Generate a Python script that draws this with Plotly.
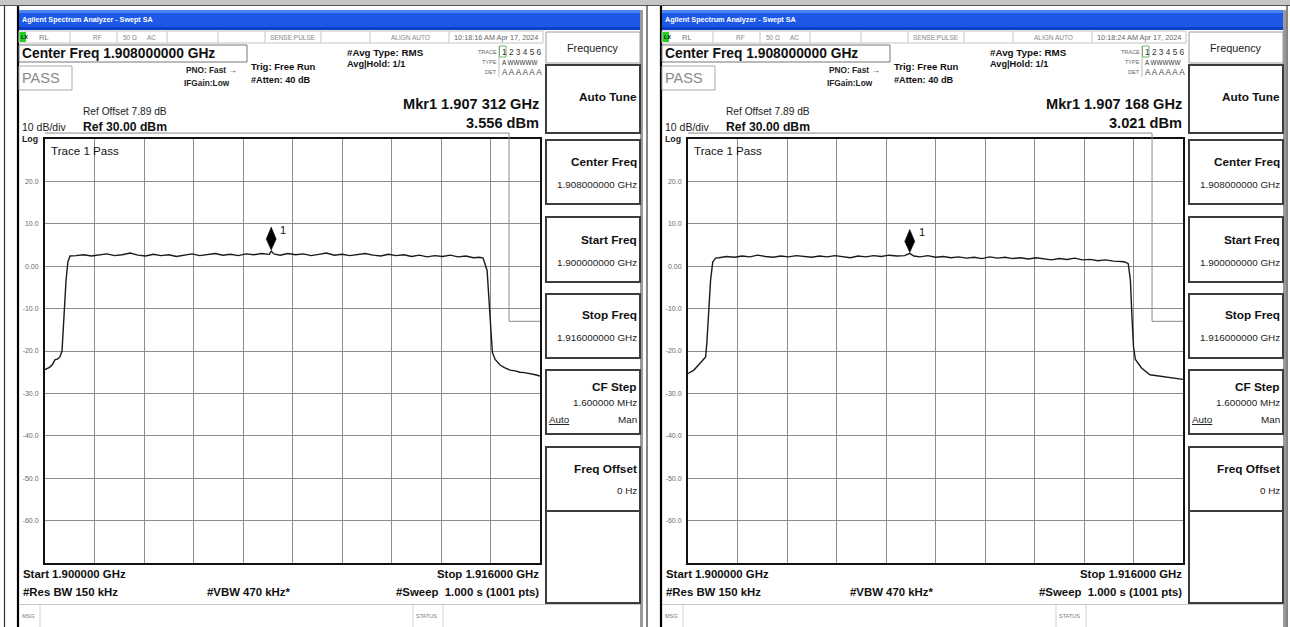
import plotly.graph_objects as go

W, H = 1290, 627
FONT = "Liberation Sans, Arial, sans-serif"

# ---------------- data ----------------
START_GHZ = 1.900
STOP_GHZ = 1.916
CENTER_GHZ = 1.908
CF_STEP_MHZ = 1.6
REF_DBM = 30.0
REF_OFFSET_DB = 7.89
DB_PER_DIV = 10
N_DIV = 10
Y_TICKS = [20, 10, 0, -10, -20, -30, -40, -50, -60]
Y_TICK_TEXT = ["20.0", "10.0", "0.00", "-10.0", "-20.0", "-30.0", "-40.0", "-50.0", "-60.0"]

LIMIT_FREQ_MHZ = [0.0, 15.0, 15.0, 16.0]
LIMIT_DBM = [31.4, 31.4, -13.0, -13.0]

P1_FREQ_MHZ = [0.00, 0.10, 0.16, 0.24, 0.32, 0.40, 0.48, 0.55, 0.61, 0.68, 0.74, 0.81,
               1.00, 1.25, 1.50, 1.75, 2.00, 2.25, 2.50, 2.75, 3.00, 3.25, 3.50, 3.75, 4.00,
               4.25, 4.50, 4.75, 5.00, 5.25, 5.50, 5.75, 6.00, 6.25, 6.50, 6.75, 7.00, 7.25,
               7.312, 7.40, 7.60,
               7.85, 8.10, 8.35, 8.60, 8.85, 9.10, 9.35, 9.60, 9.85, 10.10, 10.35, 10.60, 10.85,
               11.10, 11.35, 11.60, 11.85, 12.10, 12.35, 12.60, 12.85, 13.10, 13.35, 13.60, 13.85,
               14.05, 14.16,
               14.29, 14.35, 14.42, 14.46, 14.55, 14.71, 14.85, 15.03, 15.20, 15.35, 15.50, 15.68,
               15.85, 16.00]
P1_DBM = [-24.4, -24.0, -23.8, -23.2, -22.1, -21.9, -21.4, -20.0, -12.0, -3.3, 1.0, 2.4,
          2.5, 2.7, 2.4, 2.6, 2.9, 2.5, 2.7, 3.1, 2.6, 2.4, 2.8, 2.5, 2.7,
          2.3, 2.6, 2.9, 2.5, 2.7, 3.0, 2.6, 2.8, 2.5, 2.9, 2.7, 3.0, 2.8,
          3.556, 2.9, 2.6,
          3.0, 2.7, 2.9, 2.5, 2.8, 3.1, 2.6, 2.8, 2.5, 2.7, 3.0, 2.6, 2.4,
          2.8, 2.5, 2.7, 2.3, 2.6, 2.2, 2.5, 2.3, 2.6, 2.2, 2.4, 2.0,
          2.1, 1.9,
          -1.0, -7.3, -15.0, -20.3, -22.0, -23.3, -23.9, -24.5, -24.7, -25.0, -25.1, -25.3,
          -25.6, -25.9]

P2_FREQ_MHZ = [0.00, 0.19, 0.39, 0.57, 0.61, 0.66, 0.73, 0.80, 0.89,
               1.00, 1.25, 1.50, 1.75, 2.00, 2.25, 2.50, 2.75, 3.00, 3.25, 3.50, 3.75, 4.00,
               4.25, 4.50, 4.75, 5.00, 5.25, 5.50, 5.75, 6.00, 6.25, 6.50, 6.75, 7.00,
               7.168, 7.30, 7.50,
               7.75, 8.00, 8.25, 8.50, 8.75, 9.00, 9.25, 9.50, 9.75, 10.00, 10.25, 10.50, 10.75,
               11.00, 11.25, 11.50, 11.75, 12.00, 12.25, 12.50, 12.75, 13.00, 13.25, 13.50, 13.75,
               14.00,
               14.12, 14.23, 14.30, 14.35, 14.40, 14.46, 14.66, 14.93, 15.33, 15.87, 16.00]
P2_DBM = [-25.3, -24.5, -22.9, -21.4, -18.0, -11.9, -3.3, 1.0, 1.9,
          2.0, 2.3, 2.1, 2.4, 2.2, 2.6, 2.3, 2.1, 2.4, 2.2, 2.5, 2.3, 2.1,
          2.4, 2.2, 2.5, 2.3, 2.0, 2.4, 2.2, 2.5, 2.3, 2.6, 2.4, 2.5,
          3.021, 2.4, 2.2,
          2.5, 2.1, 2.3, 2.0, 2.2, 1.9, 2.1, 1.8, 2.2, 1.9, 2.1, 1.8, 2.0,
          1.7, 2.0, 1.8, 1.5, 1.8, 1.6, 1.9, 1.5, 1.6, 1.3, 1.5, 1.2,
          1.1,
          1.0, 0.6, -3.3, -11.9, -19.0, -22.0, -24.0, -25.6, -26.0, -26.4, -26.7]

MKR_FREQ_GHZ = [1.907312, 1.907168]
MKR_DBM = [3.556, 3.021]
TIMESTAMPS = ["10:18:16 AM Apr 17, 2024", "10:18:24 AM Apr 17, 2024"]
TRACES_MHZ = [P1_FREQ_MHZ, P2_FREQ_MHZ]
TRACES_DBM = [P1_DBM, P2_DBM]
assert len(P1_FREQ_MHZ) == len(P1_DBM) and len(P2_FREQ_MHZ) == len(P2_DBM)

# ---------------- helpers ----------------
def px(x):
    return x / W

def py(y):
    return 1 - y / H

shapes = []
annos = []

def rect(x0, y0, x1, y1, fill=None, color=None, lw=1, layer="below"):
    shapes.append(dict(type="rect", xref="paper", yref="paper",
                       x0=px(x0), x1=px(x1), y0=py(y0), y1=py(y1),
                       fillcolor=fill if fill else "rgba(0,0,0,0)",
                       line=dict(color=color if color else "rgba(0,0,0,0)", width=lw if color else 0),
                       layer=layer))

def line(x0, y0, x1, y1, color="#000", lw=1, layer="below"):
    shapes.append(dict(type="line", xref="paper", yref="paper",
                       x0=px(x0), x1=px(x1), y0=py(y0), y1=py(y1),
                       line=dict(color=color, width=lw), layer=layer))

def text(x, y, s, size=12, color="#111", bold=False, anchor="left", family=FONT):
    if bold:
        s = "<b>" + s + "</b>"
    annos.append(dict(xref="paper", yref="paper", x=px(x), y=py(y), text=s,
                      showarrow=False, xanchor=anchor, yanchor="middle",
                      font=dict(family=family, size=size, color=color), borderpad=0))

def fmt_mkr(f):
    s = f"{f:.6f}"
    return s[:5] + " " + s[5:]

# ---------------- outer frame ----------------
rect(0, 0, W, 5, fill="#c6c6c6")
line(0, 5.5, W, 5.5, color="#555", lw=1)
for xv in (4.5, 647, 1287):
    line(xv, 5, xv, H, color="#333", lw=1.2)

fig = go.Figure()
layout_axes = {}

OFFSETS = [0, 643]
PLOT_X0, PLOT_X1, PLOT_Y0, PLOT_Y1 = 45, 540, 139, 563
BOTTOM_DBM = REF_DBM - N_DIV * DB_PER_DIV

for i, ox in enumerate(OFFSETS):
    # screenshot frame
    line(18 + ox, 6, 18 + ox, H, color="#000", lw=2.2)
    line(641.5 + ox, 10, 641.5 + ox, H, color="#9a9a9a", lw=3)
    # title bar
    rect(19 + ox, 10, 640 + ox, 30, fill="#1d58e6")
    rect(19 + ox, 10, 640 + ox, 13, fill="#4a83f4")
    rect(19 + ox, 27, 640 + ox, 30, fill="#0c3fcc")
    text(21 + ox, 19.5, "Agilent Spectrum Analyzer - Swept SA", size=7.2, color="#ffffff", bold=True)
    # status row
    rect(19 + ox, 31, 543 + ox, 43, fill="#ffffff", color="#c4c4c4", lw=1)
    for xv in (70, 117, 167, 218, 265, 321, 370, 449):
        line(xv + ox, 31, xv + ox, 43, color="#c4c4c4", lw=1)
    rect(19.5 + ox, 32, 26 + ox, 42, fill="#25d025")
    text(19.5 + ox, 37, "LX", size=5.5, color="#111", bold=True)
    text(38 + ox, 37, "RL", size=7.5, color="#777")
    text(92 + ox, 37, "RF", size=6.5, color="#888")
    text(122 + ox, 37, "50 Ω", size=6.5, color="#888")
    text(146 + ox, 37, "AC", size=6.5, color="#888")
    text(293 + ox, 37, "SENSE:PULSE", size=6.5, color="#888", anchor="center")
    text(410 + ox, 37, "ALIGN AUTO", size=6.5, color="#888", anchor="center")
    text(496 + ox, 37, TIMESTAMPS[i], size=7.3, color="#666", anchor="center")

    # header readouts
    rect(19 + ox, 45, 247 + ox, 62, fill="#ffffff", color="#777", lw=1)
    text(21 + ox, 53.5, f"Center Freq {CENTER_GHZ:.9f} GHz", size=13.8, color="#111", bold=True)
    rect(19 + ox, 66, 72 + ox, 90, fill="#ffffff", color="#aaa", lw=1)
    text(21 + ox, 78, "PASS", size=14.5, color="#8a8a8a")
    text(185 + ox, 70, "PNO: Fast →", size=8.3, color="#222", bold=True)
    text(183 + ox, 83, "IFGain:Low", size=8.3, color="#222", bold=True)
    text(250 + ox, 66, "Trig: Free Run", size=9.5, color="#111", bold=True)
    text(250 + ox, 80, "#Atten: 40 dB", size=9.2, color="#111", bold=True)
    text(346 + ox, 52, "#Avg Type: RMS", size=9.8, color="#111", bold=True)
    text(346 + ox, 64, "Avg|Hold: 1/1", size=9.2, color="#111", bold=True)
    # trace table
    line(499 + ox, 46, 499 + ox, 77, color="#bbb", lw=1)
    rect(499.5 + ox, 46, 506 + ox, 57, color="#6ab36a", lw=1)
    text(498 + ox, 51.5, "TRACE", size=5.5, color="#666", anchor="right")
    text(501 + ox, 51.5, "1 2 3 4 5 6", size=8.3, color="#333")
    text(498 + ox, 62, "TYPE", size=5.5, color="#666", anchor="right")
    text(501 + ox, 62, "A WWWWW", size=6.3, color="#333")
    text(498 + ox, 72.5, "DET", size=5.5, color="#666", anchor="right")
    text(501 + ox, 72.5, "A A A A A A", size=8.2, color="#444")

    text(540 + ox, 104, "Mkr1 " + fmt_mkr(MKR_FREQ_GHZ[i]) + " GHz", size=14.6, color="#111",
         bold=True, anchor="right")
    text(540 + ox, 123, f"{MKR_DBM[i]:.3f} dBm", size=14.6, color="#111", bold=True, anchor="right")
    text(82 + ox, 112, f"Ref Offset {REF_OFFSET_DB:.2f} dB", size=10.2, color="#222")
    text(21 + ox, 127, f"{DB_PER_DIV} dB/div", size=10.5, color="#222")
    text(82 + ox, 127, f"Ref {REF_DBM:.2f} dBm", size=12.2, color="#111", bold=True)
    text(21 + ox, 138.5, "Log", size=8.8, color="#222", bold=True)

    # soft keys
    rect(546 + ox, 32, 640 + ox, 63, fill="#ffffff", color="#9a9a9a", lw=1)
    text(593 + ox, 47.5, "Frequency", size=10.8, color="#222", anchor="center")
    boxes = [(65, 133), (140, 204), (217, 282), (294, 358), (370, 434), (447, 511), (511, 603)]
    for (t, b) in boxes:
        rect(546 + ox, t, 640 + ox, b, fill="#ffffff", color="#3c3c3c", lw=2)
    KEY = 11.8
    VAL = 9.9
    text(638 + ox, 97, "Auto Tune", size=KEY, color="#111", bold=True, anchor="right")
    text(638 + ox, 162, "Center Freq", size=KEY, color="#111", bold=True, anchor="right")
    text(638 + ox, 185, f"{CENTER_GHZ:.9f} GHz", size=VAL, color="#222", anchor="right")
    text(638 + ox, 240, "Start Freq", size=KEY, color="#111", bold=True, anchor="right")
    text(638 + ox, 262, f"{START_GHZ:.9f} GHz", size=VAL, color="#222", anchor="right")
    text(638 + ox, 315, "Stop Freq", size=KEY, color="#111", bold=True, anchor="right")
    text(638 + ox, 337, f"{STOP_GHZ:.9f} GHz", size=VAL, color="#222", anchor="right")
    text(638 + ox, 387, "CF Step", size=KEY, color="#111", bold=True, anchor="right")
    text(638 + ox, 403, f"{CF_STEP_MHZ:.6f} MHz", size=VAL, color="#222", anchor="right")
    text(548 + ox, 419, "<u>Auto</u>", size=VAL, color="#222")
    text(638 + ox, 419, "Man", size=VAL, color="#222", anchor="right")
    text(638 + ox, 469, "Freq Offset", size=KEY, color="#111", bold=True, anchor="right")
    text(638 + ox, 490, "0 Hz", size=VAL, color="#222", anchor="right")

    # footer
    FT = 11.4
    text(22 + ox, 574, f"Start {START_GHZ:.6f} GHz", size=FT, color="#111", bold=True)
    text(540 + ox, 574, f"Stop {STOP_GHZ:.6f} GHz", size=FT, color="#111", bold=True, anchor="right")
    text(22 + ox, 592, "#Res BW 150 kHz", size=FT, color="#111", bold=True)
    text(206 + ox, 592, "#VBW 470 kHz*", size=FT, color="#111", bold=True)
    text(540 + ox, 592, "#Sweep  1.000 s (1001 pts)", size=FT, color="#111", bold=True, anchor="right")
    line(19 + ox, 604.5, 640 + ox, 604.5, color="#c8c8c8", lw=1)
    line(40 + ox, 605, 40 + ox, H, color="#d0d0d0", lw=1)
    line(413 + ox, 605, 413 + ox, H, color="#d0d0d0", lw=1)
    line(443 + ox, 605, 443 + ox, H, color="#d0d0d0", lw=1)
    text(21 + ox, 616, "MSG", size=5.5, color="#777")
    text(415 + ox, 616, "STATUS", size=5.5, color="#777")

    # axes
    n = i + 1
    xa = "xaxis" if n == 1 else f"xaxis{n}"
    ya = "yaxis" if n == 1 else f"yaxis{n}"
    xr = "x" if n == 1 else f"x{n}"
    yr = "y" if n == 1 else f"y{n}"
    xdom = [px(PLOT_X0 + ox), px(PLOT_X1 + ox)]
    layout_axes[xa] = dict(domain=xdom, range=[START_GHZ, STOP_GHZ], anchor=yr,
                           tick0=START_GHZ, dtick=(STOP_GHZ - START_GHZ) / N_DIV,
                           showgrid=True, gridcolor="#8c8c8c", gridwidth=1,
                           showline=True, linecolor="#111", linewidth=2, mirror=True,
                           showticklabels=False, ticks="", zeroline=False)
    layout_axes[ya] = dict(domain=[py(PLOT_Y1), py(PLOT_Y0)], range=[BOTTOM_DBM, REF_DBM], anchor=xr,
                           tickvals=Y_TICKS, ticktext=Y_TICK_TEXT,
                           tickfont=dict(family=FONT, size=7, color="#6a6a6a"),
                           ticklabelstandoff=3,
                           showgrid=True, gridcolor="#8c8c8c", gridwidth=1,
                           showline=True, linecolor="#111", linewidth=2, mirror=True,
                           ticks="", zeroline=False)
    # overlay axes for the limit line (extends slightly above the graticule)
    m = n + 2
    top_px = 130
    dbpp = (REF_DBM - BOTTOM_DBM) / (PLOT_Y1 - PLOT_Y0)
    layout_axes[f"xaxis{m}"] = dict(domain=xdom, range=[START_GHZ, STOP_GHZ], anchor=f"y{m}", visible=False)
    layout_axes[f"yaxis{m}"] = dict(domain=[py(PLOT_Y1), py(top_px)],
                                    range=[BOTTOM_DBM, REF_DBM + (PLOT_Y0 - top_px) * dbpp],
                                    anchor=f"x{m}", visible=False)

    fig.add_trace(go.Scatter(x=[START_GHZ + f / 1000 for f in LIMIT_FREQ_MHZ], y=LIMIT_DBM,
                             xaxis=f"x{m}", yaxis=f"y{m}", mode="lines",
                             line=dict(color="#8a8a8a", width=1), hoverinfo="skip", showlegend=False))
    fig.add_trace(go.Scatter(x=[START_GHZ + f / 1000 for f in TRACES_MHZ[i]], y=TRACES_DBM[i],
                             xaxis=xr, yaxis=yr, mode="lines",
                             line=dict(color="#1a1a1a", width=1.4), hoverinfo="skip", showlegend=False))
    # marker diamond
    shapes.append(dict(type="path", xref=xr, yref=yr, xsizemode="pixel", ysizemode="pixel",
                       xanchor=MKR_FREQ_GHZ[i], yanchor=MKR_DBM[i],
                       path="M0,1 L5,12 L0,24 L-5,12 Z", fillcolor="#000",
                       line=dict(color="#000", width=0.5), layer="above"))
    annos.append(dict(xref=xr, yref=yr, x=MKR_FREQ_GHZ[i], y=MKR_DBM[i], text="1",
                      showarrow=False, xanchor="left", yanchor="middle", xshift=7, yshift=21,
                      font=dict(family=FONT, size=11, color="#111")))
    text(50 + ox, 151, "Trace 1 Pass", size=11.6, color="#111")

fig.update_layout(width=W, height=H, margin=dict(l=0, r=0, t=0, b=0),
                  paper_bgcolor="#ffffff", plot_bgcolor="rgba(0,0,0,0)",
                  hovermode=False,
                  showlegend=False, shapes=shapes, annotations=annos, **layout_axes)
fig.write_html("out.html", config={"displayModeBar": False, "staticPlot": True},
               post_script="document.body.style.margin='0';document.body.style.padding='0';")
